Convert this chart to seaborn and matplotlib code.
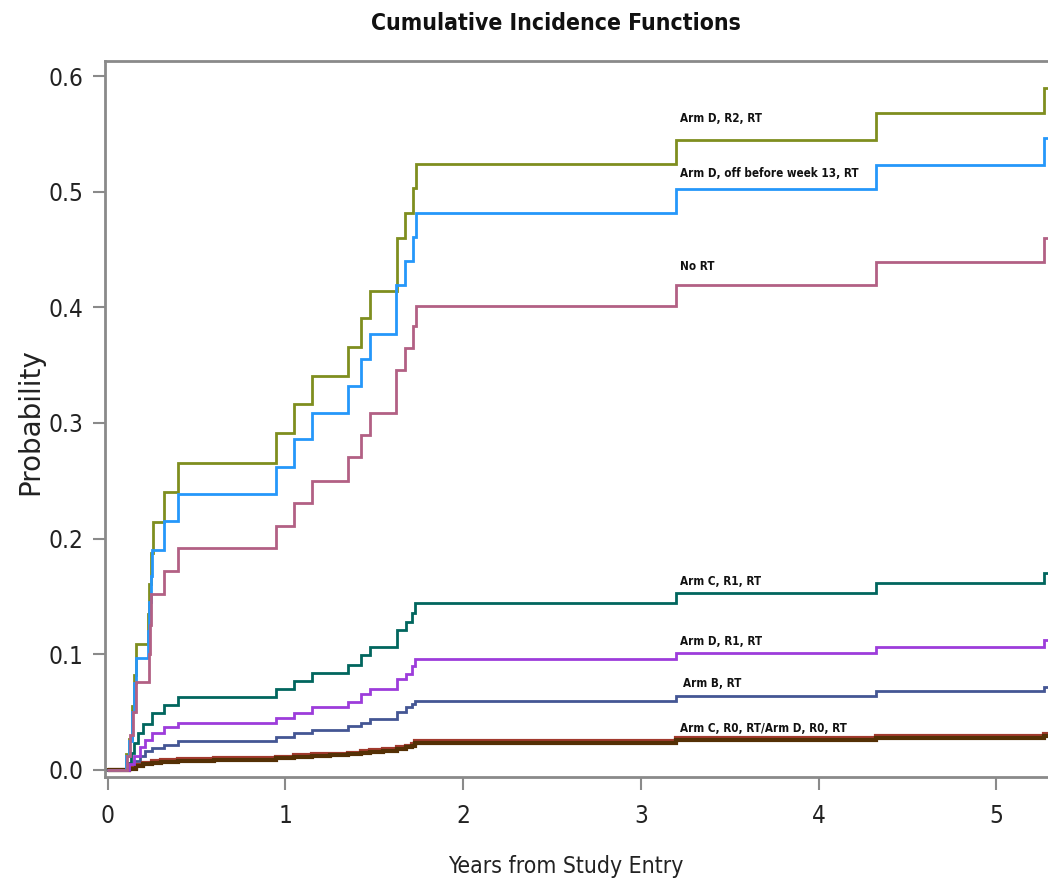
import numpy as np
import pandas as pd
import matplotlib
matplotlib.use("Agg")
import matplotlib.pyplot as plt
from matplotlib import font_manager as fm
import seaborn as sns

# ---------------- data ----------------
groups = [
    "Arm B, RT",
    "Arm C, R0, RT",
    "Arm C, R1, RT",
    "Arm D, R0, RT",
    "Arm D, R1, RT",
    "Arm D, R2, RT",
    "Arm D, off before week 13, RT",
    "No RT",
]

t_armB = [0, 0.12, 0.15, 0.18, 0.21, 0.25, 0.315, 0.395, 0.945, 1.048, 1.151, 1.354, 1.423, 1.475,
          1.625, 1.68, 1.71, 1.73, 3.198, 4.323, 5.265, 5.35]
y_armB = [0, 0.003, 0.008, 0.012, 0.016, 0.0187, 0.0216, 0.0253, 0.0287, 0.0316, 0.0345, 0.038, 0.041, 0.044,
          0.0503, 0.0546, 0.057, 0.060, 0.064, 0.068, 0.072, 0.072]

t_armC_R0 = [0, 0.12, 0.16, 0.2, 0.25, 0.3, 0.395, 0.6, 0.945, 1.048, 1.151, 1.25, 1.354, 1.423, 1.475,
             1.55, 1.625, 1.68, 1.71, 1.73, 3.198, 4.323, 5.265, 5.35]
y_armC_R0 = [0, 0.002, 0.004, 0.006, 0.0075, 0.0085, 0.0095, 0.0102, 0.0115, 0.0125, 0.0135, 0.0142, 0.015,
             0.016, 0.0172, 0.018, 0.0195, 0.021, 0.0225, 0.0248, 0.0272, 0.0292, 0.031, 0.031]

t_armC_R1 = [0, 0.11, 0.13, 0.15, 0.17, 0.20, 0.25, 0.315, 0.395, 0.945, 1.048, 1.151, 1.354, 1.423, 1.475,
             1.625, 1.68, 1.71, 1.73, 3.198, 4.323, 5.265, 5.35]
y_armC_R1 = [0, 0.006, 0.015, 0.023, 0.032, 0.04, 0.049, 0.056, 0.063, 0.070, 0.077, 0.084, 0.091, 0.099, 0.106,
             0.121, 0.128, 0.136, 0.1445, 0.153, 0.1615, 0.17, 0.17]

t_armD_R0 = [0, 0.12, 0.16, 0.2, 0.25, 0.3, 0.395, 0.6, 0.945, 1.048, 1.151, 1.25, 1.354, 1.423, 1.475,
             1.55, 1.625, 1.68, 1.71, 1.73, 3.198, 4.323, 5.265, 5.35]
y_armD_R0 = [0, 0.001, 0.003, 0.0048, 0.006, 0.007, 0.008, 0.0088, 0.010, 0.011, 0.012, 0.0128, 0.0136,
             0.0146, 0.0158, 0.0166, 0.018, 0.0195, 0.021, 0.0232, 0.0257, 0.0277, 0.0294, 0.0294]

t_armD_R1 = [0, 0.12, 0.15, 0.18, 0.21, 0.25, 0.315, 0.395, 0.945, 1.048, 1.151, 1.354, 1.423, 1.475,
             1.625, 1.68, 1.71, 1.73, 3.198, 4.323, 5.265, 5.35]
y_armD_R1 = [0, 0.005, 0.012, 0.02, 0.026, 0.032, 0.037, 0.041, 0.045, 0.049, 0.0546, 0.059, 0.0655, 0.070,
             0.079, 0.083, 0.0897, 0.0957, 0.101, 0.106, 0.112, 0.112]

t_armD_R2 = [0, 0.105, 0.12, 0.135, 0.15, 0.16, 0.225, 0.235, 0.245, 0.255, 0.315, 0.395, 0.945, 1.048,
             1.151, 1.354, 1.423, 1.475, 1.627, 1.67, 1.719, 1.736, 3.198, 4.323, 5.265, 5.35]
y_armD_R2 = [0, 0.014, 0.027, 0.055, 0.082, 0.109, 0.135, 0.161, 0.188, 0.214, 0.240, 0.265, 0.291, 0.316,
             0.341, 0.366, 0.391, 0.414, 0.460, 0.482, 0.503, 0.524, 0.545, 0.568, 0.590, 0.590]

t_armD_off = [0, 0.105, 0.12, 0.135, 0.15, 0.16, 0.225, 0.235, 0.245, 0.25, 0.315, 0.395, 0.945, 1.048,
              1.151, 1.354, 1.423, 1.475, 1.62, 1.67, 1.719, 1.736, 3.198, 4.323, 5.265, 5.35]
y_armD_off = [0, 0.012, 0.025, 0.05, 0.075, 0.097, 0.12, 0.145, 0.168, 0.19, 0.2155, 0.2385, 0.262, 0.2865,
              0.309, 0.332, 0.355, 0.377, 0.4195, 0.44, 0.461, 0.482, 0.502, 0.523, 0.546, 0.546]

t_noRT = [0, 0.11, 0.125, 0.14, 0.16, 0.235, 0.24, 0.245, 0.315, 0.395, 0.945, 1.048, 1.151, 1.354,
          1.423, 1.475, 1.62, 1.67, 1.719, 1.736, 3.198, 4.323, 5.265, 5.35]
y_noRT = [0, 0.012, 0.03, 0.05, 0.076, 0.10, 0.125, 0.1525, 0.172, 0.1917, 0.211, 0.231, 0.25, 0.271,
          0.29, 0.309, 0.346, 0.365, 0.384, 0.401, 0.4195, 0.4388, 0.46, 0.46]

series_t = [t_armB, t_armC_R0, t_armC_R1, t_armD_R0, t_armD_R1, t_armD_R2, t_armD_off, t_noRT]
series_y = [y_armB, y_armC_R0, y_armC_R1, y_armD_R0, y_armD_R1, y_armD_R2, y_armD_off, y_noRT]

colors = ["#445694", "#A23A2E", "#01665E", "#543005", "#9D3CDB", "#7F8E1F", "#2597FA", "#B26084"]

label_texts = ["Arm D, R2, RT", "Arm D, off before week 13, RT", "No RT", "Arm C, R1, RT",
               "Arm D, R1, RT", "Arm B, RT", "Arm C, R0, RT/Arm D, R0, RT"]
label_x = [3.22, 3.22, 3.22, 3.22, 3.22, 3.235, 3.22]
label_y = [0.563, 0.516, 0.435, 0.163, 0.1107, 0.0744, 0.0359]

x_ticks = [0, 1, 2, 3, 4, 5]
y_ticks = [0.0, 0.1, 0.2, 0.3, 0.4, 0.5, 0.6]

# ---------------- build table ----------------
rows = []
for g, ts, ys in zip(groups, series_t, series_y):
    for t, y in zip(ts, ys):
        rows.append({"Years": t, "Probability": y, "Group": g})
df = pd.DataFrame(rows)


# ---------------- fonts: look for a narrow / condensed sans ----------------
def _is_narrow(f):
    s = str(f.stretch).lower()
    n = f.name.lower()
    if "narrow" in n or "condensed" in n:
        return True
    if s in ("condensed", "semi-condensed", "extra-condensed", "ultra-condensed"):
        return True
    try:
        return float(s) <= 87.5
    except ValueError:
        return False


def _wt(f):
    w = f.weight
    if isinstance(w, str):
        return {"normal": 400, "regular": 400, "bold": 700, "medium": 500,
                "light": 300, "semibold": 600, "demibold": 600}.get(w.lower(), 400)
    return int(w)


pref = ["dejavu sans", "liberation sans", "noto sans", "roboto", "open sans", "lato"]
narrow_fonts = [f for f in fm.fontManager.ttflist
                if _is_narrow(f) and str(f.style).lower() == "normal"
                and any(f.name.lower().startswith(p) for p in pref)]


def _pick(target):
    best = None
    for p in pref:
        cands = [f for f in narrow_fonts if f.name.lower().startswith(p)]
        if cands:
            best = min(cands, key=lambda f: abs(_wt(f) - target))
            break
    return best


reg = _pick(400)
bld = _pick(700)
if reg is not None:
    fp_reg = lambda size: fm.FontProperties(fname=reg.fname, size=size)
    scale_reg = 1.0
else:
    fp_reg = lambda size: fm.FontProperties(family="DejaVu Sans", size=size)
    scale_reg = 0.82
if bld is not None and _wt(bld) >= 600:
    fp_bold = lambda size: fm.FontProperties(fname=bld.fname, size=size)
    scale_bold = 1.0
else:
    fp_bold = lambda size: fm.FontProperties(family="DejaVu Sans", weight="bold", size=size)
    scale_bold = 0.82

sns.set_style("white")
plt.rcParams["font.family"] = ["DejaVu Sans"]

fig = plt.figure(figsize=(10.48, 8.9), dpi=100)
W, H = 1048, 890
ax = fig.add_axes([105 / W, 1 - 777 / H, (W - 105) / W, (777 - 61) / H])

lws = [2.0, 3.0, 2.0, 3.0, 2.0, 2.0, 2.0, 2.0]
palette = dict(zip(groups, colors))
sns.lineplot(data=df, x="Years", y="Probability", hue="Group", palette=palette,
             estimator=None, sort=True, drawstyle="steps-post", legend=False, ax=ax,
             linewidth=2.0)
for line, lw in zip(ax.get_lines(), lws):
    line.set_linewidth(lw)
    line.set_solid_joinstyle("miter")

ax.set_xlim(-0.015, 5.29)
ax.set_ylim(-0.0061, 0.613)
ax.set_xticks(x_ticks)
ax.set_yticks(y_ticks)
ax.set_xticklabels([str(v) for v in x_ticks])
ax.set_yticklabels([f"{v:.1f}" for v in y_ticks])
ax.tick_params(axis="both", direction="out", width=1.5, color="#8a8a8a",
               labelcolor="#222222", bottom=True, left=True)
ax.tick_params(axis="y", length=8.5, pad=7)
ax.tick_params(axis="x", length=9.5, pad=10)
tick_size = 17.5 * scale_reg
for lab in ax.get_xticklabels() + ax.get_yticklabels():
    lab.set_fontproperties(fp_reg(tick_size))

for side in ["left", "bottom", "top"]:
    ax.spines[side].set_visible(True)
    ax.spines[side].set_color("#8a8a8a")
    ax.spines[side].set_linewidth(2.0)
ax.spines["right"].set_visible(False)

ax.set_xlabel("")
ax.set_ylabel("")

for txt, lx, ly in zip(label_texts, label_x, label_y):
    ax.text(lx, ly, txt, ha="left", va="center", color="#111111",
            fontproperties=fp_bold(8.4 * scale_bold))

fig.text(556 / W, 1 - 24 / H, "Cumulative Incidence Functions", ha="center", va="center",
         color="#111111", fontproperties=fp_bold(16.5 * scale_bold))
fig.text(566 / W, 1 - 866 / H, "Years from Study Entry", ha="center", va="center",
         color="#222222", fontproperties=fp_reg(16.5 * scale_reg))
fig.text(30 / W, 1 - 422 / H, "Probability", ha="center", va="center", rotation=90,
         fontsize=20, color="#222222", family="DejaVu Sans")

fig.savefig("out.png", dpi=100)
